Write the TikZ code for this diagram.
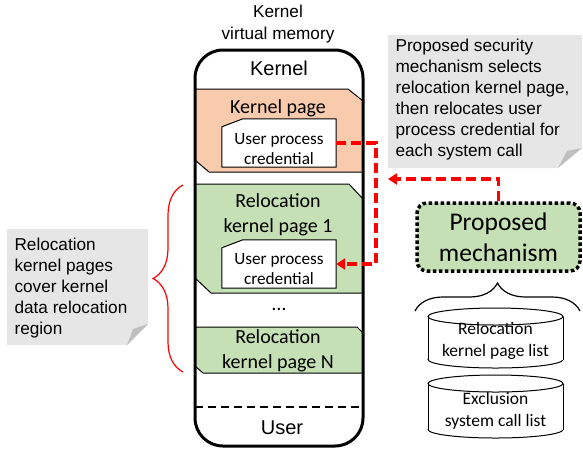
\documentclass[tikz,border=0pt]{standalone}
\usepackage{fontspec}
\setmainfont{Carlito}
\newfontfamily\arialfont{Liberation Sans}
\usetikzlibrary{arrows.meta,decorations.pathreplacing}
\definecolor{pageorange}{HTML}{F8CBAD}
\definecolor{pagegreen}{HTML}{C5E0B4}
\definecolor{notegray}{HTML}{E7E6E6}
\definecolor{foldgray}{HTML}{BFBFBF}
\begin{document}
\begin{tikzpicture}[x=1pt, y=-1pt,
  pageline/.style={draw, line width=1pt},
  credbox/.style={minimum width=114pt, minimum height=48pt, inner sep=0pt},
  credtext/.style={font=\fontsize{17.2}{20}\selectfont, align=center},
  pagetext/.style={font=\fontsize{20}{25}\selectfont, align=center},
  memtext/.style={font=\arialfont\fontsize{20}{24}\selectfont},
  notetext/.style={font=\arialfont\fontsize{17.2}{21}\selectfont, align=left, anchor=west},
  relarrow/.style={draw=red, line width=3.5pt, dash pattern=on 10pt off 5pt,
    -{Triangle[length=9pt,width=11pt]}},
  mechbox/.style={draw, fill=pagegreen, line width=3.5pt, dash pattern=on 3.5pt off 2.5pt,
    rounded corners=10pt, minimum width=163pt, minimum height=68pt, align=center,
    font=\fontsize{25.5}{31}\selectfont},
  listtext/.style={font=\fontsize{17.5}{22}\selectfont, align=center}]
\useasboundingbox (0,0) rectangle (583,448);

% title
\node[font=\arialfont\fontsize{17.2}{22}\selectfont, align=center] (title) at (278,24) {Kernel\\virtual memory};

% pages
\fill[pageorange] (195,89) -- (348,89) -- (363,101) -- (363,172) -- (209,172) -- (195,160) -- cycle;
\draw[pageline] (195,89) -- (348,89) -- (363,101) (363,172) -- (209,172) -- (195,160);
\fill[pagegreen] (195,184) -- (349,184) -- (363,199) -- (363,293) -- (211,293) -- (195,278) -- cycle;
\draw[pageline] (195,184) -- (349,184) -- (363,199) (363,293) -- (211,293) -- (195,278);
\fill[pagegreen] (195,327) -- (357,327) -- (363,333) -- (363,373) -- (203,373) -- (195,366) -- cycle;
\draw[pageline] (195,327) -- (357,327) -- (363,333) (363,373) -- (203,373) -- (195,366);
\draw[line width=2.5pt, dash pattern=on 8pt off 5pt] (195,407) -- (363,407);
\draw[line width=3pt, rounded corners=28pt] (195,50) rectangle (363,446);

\node[memtext] (kern) at (279,68) {Kernel};
\node[pagetext] (kpage) at (278,108.5) {Kernel page};
\node[pagetext] (rpage1) at (278,214.5) {Relocation\\kernel page 1};
\node[pagetext] (dots) at (279,309) {\dots};
\node[pagetext] (rpageN) at (278,351) {Relocation\\kernel page N};
\node[memtext] (user) at (282,428) {User};

% credentials
\node[credbox] (cred1) at (279,143) {};
\node[credbox] (cred2) at (279,264) {};
\foreach \c in {cred1,cred2}
  \draw[pageline, fill=white] ([yshift=-8pt]\c.north west) -- ([xshift=21pt]\c.north west)
    -- (\c.north east) -- (\c.south east) -- (\c.south west) -- cycle;
\node[credtext] (cred1txt) at (279,149) {User process\\credential};
\node[credtext] (cred2txt) at (279,269) {User process\\credential};

% notes
\fill[notegray] (388,35) -- (582,35) -- (582,148) -- (558,168) -- (388,168) -- cycle;
\fill[foldgray] (558,168) -- (567,151) -- (582,148) -- cycle;
\node[notetext] (selnote) at (392,100) {Proposed security\\mechanism selects\\relocation kernel page,\\then relocates user\\process credential for\\each system call};
\fill[notegray] (7,229) -- (148,229) -- (148,324) -- (127,345) -- (7,345) -- cycle;
\fill[foldgray] (127,345) -- (133,329) -- (148,324) -- cycle;
\node[notetext] (regnote) at (11,288) {Relocation\\kernel pages\\cover kernel\\data relocation\\region};
\draw[red, line width=1.2pt, decorate, decoration={brace, amplitude=30pt}] (183,372) -- (183,185);

% mechanism
\node[mechbox] (mech) at (498.5,237) {Proposed\\mechanism};
\draw[line width=1.2pt, decorate, decoration={brace, amplitude=28pt}] (415,311) -- (580,311);
\foreach \yt/\yb in {308/368, 375/438} {
  \draw[line width=1pt, fill=white] (495.5,\yb-8.5) ellipse [x radius=67.5, y radius=8.5];
  \fill[white] (428,\yt+8.5) rectangle (563,\yb-8.5);
  \draw[line width=1pt] (428,\yt+8.5) -- (428,\yb-8.5) (563,\yt+8.5) -- (563,\yb-8.5);
  \draw[line width=1pt, fill=white] (495.5,\yt+8.5) ellipse [x radius=67.5, y radius=8.5];
}
\node[listtext] (rklist) at (495.5,341) {Relocation\\kernel page list};
\node[listtext] (exlist) at (495.5,411) {Exclusion\\system call list};

% arrows
\coordinate (turn) at (376,200);
\coordinate (selend) at (388,179);
\draw[relarrow] (cred1.east) -| (turn) |- (cred2.east);
\draw[relarrow] (mech.north) |- (selend);
\end{tikzpicture}
\end{document}
